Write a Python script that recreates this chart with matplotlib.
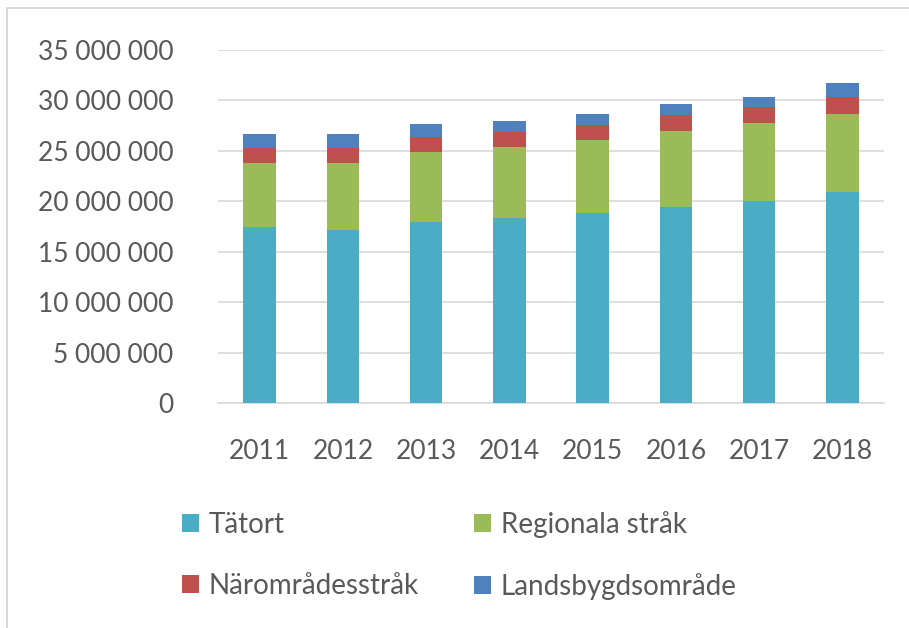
import matplotlib
matplotlib.use("Agg")
import matplotlib.pyplot as plt
from matplotlib.patches import Rectangle
from matplotlib.ticker import FuncFormatter, MultipleLocator
import numpy as np

# Data (millions)
years = ["2011", "2012", "2013", "2014", "2015", "2016", "2017", "2018"]
tatort = [17.5, 17.15, 17.9, 18.3, 18.8, 19.4, 20.0, 20.9]
regionala = [6.27, 6.65, 7.02, 7.05, 7.27, 7.57, 7.79, 7.75]
naromrade = [1.48, 1.45, 1.42, 1.55, 1.49, 1.58, 1.59, 1.66]
landsbygd = [1.42, 1.42, 1.29, 1.06, 1.06, 1.05, 0.99, 1.39]

series = [
    ("Tätort", tatort, "#4bacc6"),
    ("Regionala stråk", regionala, "#9bbb59"),
    ("Närområdesstråk", naromrade, "#c0504d"),
    ("Landsbygdsområde", landsbygd, "#4f81bd"),
]

plt.rcParams['font.family'] = ['Lato', 'DejaVu Sans']
TXT = "#595959"

fig = plt.figure(figsize=(9.09, 6.28), dpi=100)
# outer chart frame
fig.patches.append(Rectangle((7 / 909, -0.05), 1.1, 1 - 8 / 628 + 0.05,
                             transform=fig.transFigure, fill=False,
                             edgecolor="#d0d0d0", linewidth=1.2))

ax = fig.add_axes([218 / 909, 1 - 403 / 628, (884 - 218) / 909, (403 - 50) / 628])

x = np.arange(len(years))
bottom = np.zeros(len(years))
handles = []
for name, vals, col in series:
    v = np.array(vals) * 1e6
    h = ax.bar(x, v, 0.39, bottom=bottom, color=col, label=name, zorder=3)
    handles.append(h)
    bottom += v

ax.set_xlim(-0.5, len(years) - 0.5)
ax.set_ylim(0, 35e6)
ax.yaxis.set_major_locator(MultipleLocator(5e6))
ax.yaxis.set_major_formatter(FuncFormatter(lambda v, p: f"{int(v):,}".replace(",", " ")))
ax.set_xticks(x)
ax.set_xticklabels(years)
ax.grid(axis="y", color="#d9d9d9", linewidth=1.2, zorder=0)
for s in ["top", "right", "left"]:
    ax.spines[s].set_visible(False)
ax.spines["bottom"].set_color("#d9d9d9")
ax.spines["bottom"].set_linewidth(1.2)
ax.tick_params(axis="both", length=0, labelsize=19, colors=TXT)
ax.tick_params(axis="y", pad=32)
ax.tick_params(axis="x", pad=26)

# legend is filled row by row in the reference
order = [0, 2, 1, 3]
leg = fig.legend(handles=[handles[i] for i in order],
                 labels=[series[i][0] for i in order], ncol=2,
                 loc="upper left", bbox_to_anchor=(157 / 909, 1 - 486 / 628),
                 frameon=False, fontsize=20, handlelength=0.6, handleheight=0.6,
                 handletextpad=0.35, columnspacing=2.0, labelspacing=1.25)
for t in leg.get_texts():
    t.set_color(TXT)

fig.savefig("out.png", dpi=100)
